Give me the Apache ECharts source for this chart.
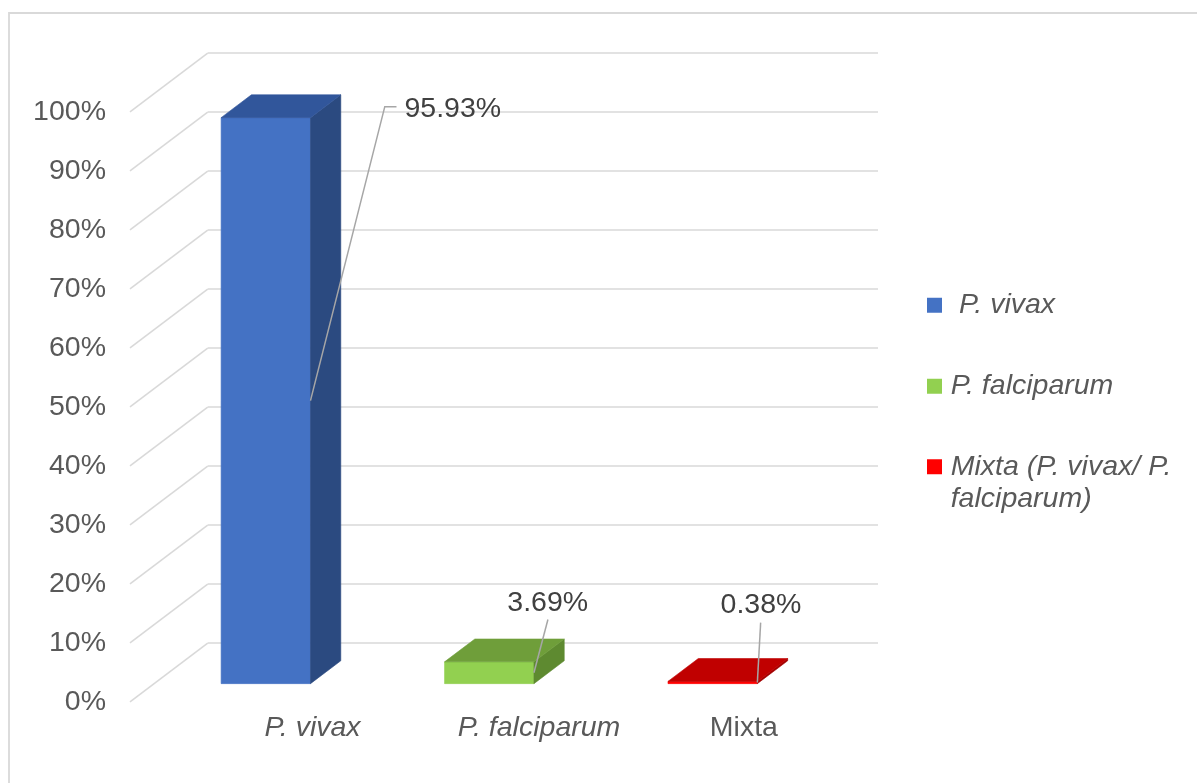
<!DOCTYPE html>
<html><head><meta charset="utf-8">
<script src="https://cdn.jsdelivr.net/npm/echarts@6/dist/echarts.min.js"></script>
<style>html,body{margin:0;padding:0;background:#fff}#c{width:1197px;height:783px}</style>
</head><body><div id="c"></div>
<script>
// ---- data ----
const categories = ['P. vivax', 'P. falciparum', 'Mixta'];
const seriesNames = ['P. vivax', 'P. falciparum', 'Mixta (P. vivax/ P. falciparum)'];
const values = [95.93, 3.69, 0.38];
const yTicks = [0, 10, 20, 30, 40, 50, 60, 70, 80, 90, 100];

// ---- style / layout ----
const FONT = "'Liberation Sans', Arial, sans-serif";
const FS = 28.5;
const FRONT = ['#4472C4', '#92D050', '#FF0000'];
const TOPC = ['#31569B', '#6F9E3A', '#C00000'];
const SIDE = ['#2B4A80', '#5E8A30', '#A30000'];
const DX = 77.7, DY = 58.6;     // depth of the 3D floor
const F0 = 0.31, F1 = 0.70;     // bar depth (fraction of floor depth)
const GRID_COLOR = '#D9D9D9';
// label placement relative to the top-right corner of each bar's front face
const LABEL_LAYOUT = [
  { line: [[74.3, -11], [86, -11]], text: [94, -8.4], align: 'left' },
  { line: [[14, -42.3]], text: [13.8, -59], align: 'center' },
  { line: [[3.3, -58.8]], text: [3.6, -75.8], align: 'center' }
];

function barRender(idx) {
  return function (params, api) {
    const cat = api.value(0), v = api.value(1);
    const base = api.coord([cat, 0]);
    const top = api.coord([cat, v]);
    const bw = api.size([1, 0])[0] * 0.4;
    const x0 = base[0] - bw / 2 + F0 * DX;
    const x1 = x0 + bw;
    const yb = base[1] - F0 * DY, yt = top[1] - F0 * DY;
    const dx = (F1 - F0) * DX, dy = (F1 - F0) * DY;
    const face = (pts, c) => ({ type: 'polygon', shape: { points: pts },
      style: { fill: c, stroke: c, lineWidth: 0.6 } });
    const children = [
      face([[x0, yt], [x1, yt], [x1, yb], [x0, yb]], FRONT[idx]),
      face([[x1, yt], [x1 + dx, yt - dy], [x1 + dx, yb - dy], [x1, yb]], SIDE[idx]),
      face([[x0, yt], [x1, yt], [x1 + dx, yt - dy], [x0 + dx, yt - dy]], TOPC[idx])
    ];
    const L = LABEL_LAYOUT[idx];
    const pts = [[x1, (yt + yb) / 2]].concat(L.line.map(p => [x1 + p[0], yt + p[1]]));
    children.push({ type: 'polyline', shape: { points: pts },
      style: { stroke: '#A6A6A6', lineWidth: 1.5, fill: null } });
    children.push({ type: 'text', x: x1 + L.text[0], y: yt + L.text[1],
      style: { text: v.toFixed(2) + '%', fontSize: FS, fontFamily: FONT, fill: '#404040',
        align: L.align, verticalAlign: 'middle' } });
    return { type: 'group', children };
  };
}

const chart = echarts.init(document.getElementById('c'), null, { renderer: 'canvas' });

const barSeries = seriesNames.map((name, i) => ({
  name, type: 'custom', xAxisIndex: 0, yAxisIndex: 0,
  itemStyle: { color: FRONT[i] },
  data: [[i, values[i]]],
  renderItem: barRender(i), z: 5
}));

const legendTop = [289, 370, 418];
const legendPad = [[0, 0, 0, 12], [0, 0, 0, 3.7], [0, 0, 0, 3.7]];
const legends = seriesNames.map((n, i) => ({
  data: [n], orient: 'vertical', left: 927, top: legendTop[i], padding: 0,
  itemWidth: 15, itemHeight: 15, icon: 'rect', selectedMode: false,
  formatter: name => name === 'Mixta (P. vivax/ P. falciparum)' ? '\nMixta (P. vivax/ P.\nfalciparum)' : name,
  textStyle: { fontSize: FS, fontStyle: 'italic', color: '#595959', fontFamily: FONT,
    lineHeight: 32.5, padding: legendPad[i] }
}));

chart.setOption({
  animation: false,
  backgroundColor: '#fff',
  graphic: [{ type: 'rect', silent: true, shape: { x: 9, y: 13, width: 1400, height: 1000 },
    style: { fill: null, stroke: GRID_COLOR, lineWidth: 1.8 } }],
  legend: legends,
  grid: [
    { left: 130, top: 111.8, width: 670.3, height: 590, containLabel: false, outerBoundsMode: 'none' },
    { left: 207.7, top: 53.2, width: 670.3, height: 589.4, containLabel: false, outerBoundsMode: 'none' },
    { left: 204.7, top: 690, width: 647, height: 10, containLabel: false, outerBoundsMode: 'none' }
  ],
  xAxis: [
    { gridIndex: 0, type: 'category', data: categories, show: false },
    { gridIndex: 1, type: 'category', data: categories, show: false },
    { gridIndex: 2, type: 'category', data: categories,
      axisLine: { show: false }, axisTick: { show: false }, splitLine: { show: false },
      axisLabel: { margin: 12.5, interval: 0,
        formatter: (val, idx) => (idx === 0 ? '{a|' : idx === 1 ? '{b|' : '{c|') + val + '}',
        rich: {
          a: { fontSize: FS, fontFamily: FONT, color: '#595959', fontStyle: 'italic', lineHeight: 32 },
          b: { fontSize: FS, fontFamily: FONT, color: '#595959', fontStyle: 'italic', lineHeight: 32, padding: [0, 0, 0, 21.6] },
          c: { fontSize: FS, fontFamily: FONT, color: '#595959', fontStyle: 'normal', lineHeight: 32 }
        } } }
  ],
  yAxis: [
    { gridIndex: 0, type: 'value', min: 0, max: 100, interval: 10,
      axisLine: { show: false }, axisTick: { show: false }, splitLine: { show: false },
      axisLabel: { formatter: v => v + '%', fontSize: FS, fontFamily: FONT, color: '#595959', margin: 24,
        padding: [3, 0, 0, 0] } },
    { gridIndex: 1, type: 'value', min: 0, max: 100, interval: 10,
      axisLine: { show: false }, axisTick: { show: false }, axisLabel: { show: false },
      splitLine: { show: true, lineStyle: { color: GRID_COLOR, width: 1.6 } } },
    { gridIndex: 2, type: 'value', min: 0, max: 1, show: false }
  ],
  series: [
    {
      type: 'custom', name: 'floor-lines', xAxisIndex: 0, yAxisIndex: 0, silent: true, z: 1,
      data: yTicks.map(t => [0, t]),
      renderItem: (params, api) => {
        const y = api.coord([0, api.value(1)])[1];
        const x = params.coordSys.x;
        return { type: 'line', shape: { x1: x, y1: y, x2: x + DX, y2: y - DY },
          style: { stroke: GRID_COLOR, lineWidth: 1.6 } };
      }
    }
  ].concat(barSeries)
});
</script></body></html>
